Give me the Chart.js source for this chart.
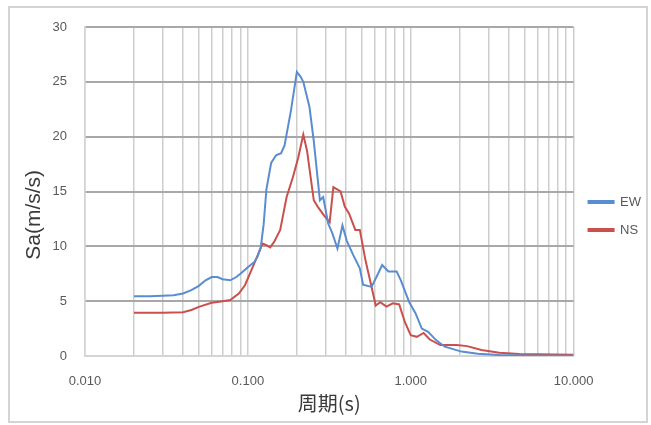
<!DOCTYPE html>
<html lang="ja">
<head>
    <meta charset="UTF-8">
    <title>Sa 周期</title>
    <script src="https://cdn.jsdelivr.net/npm/chart.js"></script>
    <style>
        html, body { margin: 0; padding: 0; background: #fff; }
        #frame {
            position: absolute; left: 8px; top: 6px;
            width: 636px; height: 413px;
            border: 2px solid #d4d4d4;
        }
        #wrap { position: absolute; left: 0; top: 0; width: 651px; height: 425px; }
    </style>
</head>
<body>
    <div id="frame"></div>
    <div id="wrap"><canvas id="saChart" width="651" height="425"></canvas></div>

    <script>
        // EW component: period (s) and Sa (m/s/s)
        const ewPeriod = [0.02, 0.025, 0.03, 0.035, 0.04, 0.045, 0.05, 0.055, 0.06, 0.065,
            0.07, 0.078, 0.085, 0.09, 0.1, 0.11, 0.115, 0.12, 0.125, 0.13,
            0.139, 0.149, 0.16, 0.168, 0.184, 0.2, 0.21, 0.219, 0.239, 0.254,
            0.277, 0.29, 0.311, 0.33, 0.355, 0.381, 0.405, 0.444, 0.487, 0.51,
            0.575, 0.63, 0.668, 0.73, 0.82, 0.87, 0.98, 1.07, 1.17, 1.28,
            1.43, 1.62, 2.05, 2.58, 3.5, 5, 10];
        const ewSa = [5.45, 5.45, 5.5, 5.55, 5.7, 6.0, 6.4, 6.9, 7.2, 7.2,
            7.0, 6.9, 7.2, 7.5, 8.1, 8.6, 9.1, 9.9, 12.0, 15.2,
            17.6, 18.3, 18.5, 19.2, 22.4, 25.9, 25.5, 25.0, 22.7, 19.6,
            14.2, 14.5, 12.1, 11.2, 9.8, 11.9, 10.5, 9.2, 8.0, 6.5,
            6.3, 7.5, 8.3, 7.7, 7.7, 6.9, 4.9, 3.9, 2.5, 2.2,
            1.45, 0.85, 0.4, 0.2, 0.1, 0.05, 0.02];

        // NS component
        const nsPeriod = [0.02, 0.03, 0.04, 0.045, 0.0505, 0.06, 0.07, 0.078, 0.088, 0.096,
            0.105, 0.115, 0.123, 0.13, 0.137, 0.145, 0.158, 0.173, 0.189, 0.204,
            0.219, 0.231, 0.254, 0.269, 0.294, 0.318, 0.335, 0.371, 0.394, 0.418,
            0.457, 0.487, 0.528, 0.575, 0.61, 0.65, 0.71, 0.776, 0.85, 0.92,
            1.0, 1.09, 1.2, 1.31, 1.52, 1.92, 2.22, 2.72, 3.5, 4.64, 10];
        const nsSa = [3.94, 3.95, 4.0, 4.2, 4.5, 4.85, 5.0, 5.1, 5.7, 6.45,
            7.8, 9.2, 10.25, 10.1, 9.9, 10.4, 11.5, 14.5, 16.3, 18.1,
            20.2, 18.7, 14.2, 13.6, 12.8, 12.2, 15.4, 15.0, 13.6, 13.0,
            11.5, 11.5, 8.7, 6.3, 4.6, 4.9, 4.5, 4.8, 4.7, 3.1,
            1.9, 1.75, 2.1, 1.5, 1.0, 1.0, 0.9, 0.55, 0.3, 0.18, 0.12];

        // x axis grid / tick positions (log), labelled ones are the decades
        const xMajorTicks = [0.01, 0.1, 1, 10];
        const xGridTicks = [0.01, 0.02, 0.03, 0.04, 0.05, 0.06, 0.07, 0.08, 0.09,
            0.1, 0.2, 0.3, 0.4, 0.5, 0.6, 0.7, 0.8, 0.9,
            1, 2, 3, 4, 5, 6, 7, 8, 9, 10];

        const seriesNames = ['EW', 'NS'];
        const textFont = "'Liberation Sans', 'Noto Sans CJK JP', sans-serif";

        const toPoints = (xs, ys) => xs.map((x, i) => ({ x: x, y: ys[i] }));

        new Chart(document.getElementById('saChart'), {
            type: 'line',
            data: {
                datasets: [{
                    label: seriesNames[0],
                    data: toPoints(ewPeriod, ewSa),
                    borderColor: '#5a8dd0',
                    backgroundColor: '#5a8dd0',
                    borderWidth: 2,
                    pointRadius: 0,
                    tension: 0
                }, {
                    label: seriesNames[1],
                    data: toPoints(nsPeriod, nsSa),
                    borderColor: '#c9504d',
                    backgroundColor: '#c9504d',
                    borderWidth: 2,
                    pointRadius: 0,
                    tension: 0
                }]
            },
            options: {
                responsive: false,
                animation: false,
                layout: { padding: { left: 0, right: 0, top: 27, bottom: 10 } },
                plugins: {
                    tooltip: { enabled: false },
                    legend: {
                        position: 'right',
                        fullSize: false,
                        // empty title only used to push the items down a bit
                        title: {
                            display: true,
                            text: '',
                            font: { size: 10 },
                            padding: { top: 0, bottom: 37 }
                        },
                        labels: {
                            boxWidth: 25,
                            boxHeight: 2,
                            padding: 15,
                            color: '#595959',
                            font: { family: textFont, size: 13 }
                        }
                    }
                },
                scales: {
                    x: {
                        type: 'logarithmic',
                        min: 0.01,
                        max: 10,
                        afterBuildTicks: axis => {
                            axis.ticks = xGridTicks.map(v => ({ value: v, major: xMajorTicks.includes(v) }));
                        },
                        afterFit: axis => { axis.height = 59; },
                        ticks: {
                            autoSkip: false,
                            maxRotation: 0,
                            padding: 18,
                            color: '#595959',
                            font: { family: textFont, size: 13 },
                            callback: v => xMajorTicks.includes(v) ? v.toFixed(3) : ''
                        },
                        grid: {
                            drawTicks: false,
                            color: '#cdcdcd',
                            lineWidth: 1.5
                        },
                        border: { color: '#d4d4d4', width: 1.5 },
                        title: {
                            display: true,
                            text: '周期(s)',
                            color: '#3a3a3a',
                            font: { family: "'Noto Sans CJK JP', sans-serif", size: 20 },
                            padding: { top: 0, bottom: 0 }
                        }
                    },
                    y: {
                        min: 0,
                        max: 30,
                        afterFit: axis => { axis.width = 85; },
                        ticks: {
                            stepSize: 5,
                            padding: 18,
                            color: '#595959',
                            font: { family: textFont, size: 13 }
                        },
                        grid: {
                            drawTicks: false,
                            color: ctx => ctx.tick && ctx.tick.value === 0 ? '#d4d4d4' : '#a8a8a8',
                            lineWidth: 2
                        },
                        border: { color: '#d4d4d4', width: 1.5 },
                        title: {
                            display: true,
                            text: 'Sa(m/s/s)        ',
                            color: '#3a3a3a',
                            font: { family: textFont, size: 21 },
                            padding: { top: 22, bottom: 0 }
                        }
                    }
                }
            }
        });
    </script>
</body>
</html>
